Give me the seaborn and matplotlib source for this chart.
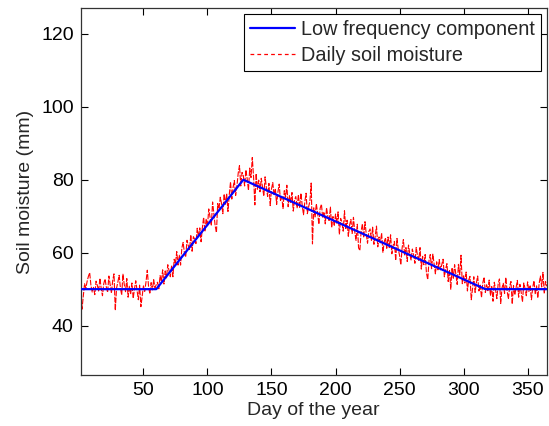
import numpy as np
import pandas as pd
import matplotlib
matplotlib.use("Agg")
import matplotlib.pyplot as plt
import seaborn as sns

# Low frequency component (piecewise linear breakpoints)
lf_days = [1, 60, 128, 317, 365]
lf_values = [50, 50, 80, 50, 50]

# Daily soil moisture (mm)
daily_values = [
    48.8, 44.5, 48.0, 51.5, 50.3, 52.1, 53.5, 54.5, 51.0, 49.2,
    50.5, 48.5, 52.2, 51.0, 49.5, 53.0, 50.2, 48.2, 51.5, 52.8,
    50.6, 49.1, 53.6, 51.2, 48.9, 52.4, 54.2, 44.2, 50.3, 51.9,
    53.8, 50.4, 48.4, 54.1, 51.3, 49.3, 52.9, 47.8, 50.8, 48.6,
    51.7, 47.5, 50.1, 52.3, 49.6, 47.1, 51.1, 45.2, 48.1, 50.9,
    49.4, 52.0, 55.2, 50.7, 48.7, 51.8, 49.8, 52.6, 50.4, 51.2,
    51.9, 50.1, 53.7, 52.1, 55.3, 51.4, 55.0, 53.1, 56.7, 55.0,
    53.4, 56.5, 53.4, 58.2, 57.0, 60.3, 56.6, 59.3, 56.6, 61.3,
    62.8, 59.9, 58.8, 63.4, 62.0, 60.9, 64.9, 60.4, 64.4, 63.7,
    62.5, 66.7, 64.3, 66.8, 63.0, 66.8, 69.7, 65.8, 69.3, 67.2,
    72.0, 69.7, 67.4, 73.9, 70.7, 67.4, 65.5, 73.5, 72.0, 75.2,
    73.5, 70.7, 76.1, 73.3, 76.2, 71.3, 75.8, 79.4, 74.7, 77.9,
    79.8, 75.7, 78.3, 81.8, 83.9, 78.3, 82.0, 81.1, 78.3, 82.7,
    80.3, 77.1, 83.2, 80.6, 86.1, 80.7, 73.1, 81.7, 77.4, 79.9,
    76.7, 80.4, 77.9, 75.5, 80.8, 77.8, 75.4, 79.0, 72.9, 77.5,
    79.2, 75.7, 77.6, 73.2, 76.6, 78.8, 74.3, 75.4, 72.1, 77.0,
    75.2, 78.5, 72.6, 75.6, 73.8, 76.5, 71.4, 74.5, 75.4, 72.3,
    75.9, 72.4, 76.3, 72.9, 70.4, 73.9, 76.3, 70.7, 72.6, 74.1,
    79.1, 62.4, 72.3, 69.8, 73.4, 70.9, 67.8, 72.2, 73.3, 69.5,
    71.2, 67.9, 72.3, 69.9, 68.6, 72.5, 66.9, 69.9, 67.3, 70.6,
    68.1, 71.2, 65.0, 69.4, 68.4, 65.9, 71.5, 66.4, 68.9, 64.5,
    67.6, 69.1, 65.3, 69.7, 65.8, 63.4, 67.8, 61.3, 60.6, 65.9,
    67.9, 64.1, 68.5, 65.1, 62.6, 65.8, 66.5, 63.4, 67.0, 62.3,
    64.5, 67.3, 61.6, 64.3, 62.7, 65.4, 60.1, 62.9, 64.1, 61.2,
    64.3, 61.4, 64.9, 59.7, 62.0, 63.1, 57.9, 63.9, 60.9, 59.3,
    56.7, 61.3, 63.6, 59.2, 61.4, 57.6, 62.1, 59.7, 58.0, 61.0,
    59.4, 57.1, 61.4, 59.3, 57.9, 61.4, 55.5, 59.0, 56.7, 59.5,
    54.5, 52.6, 57.8, 59.5, 55.6, 59.6, 56.8, 54.2, 57.5, 55.3,
    58.1, 55.3, 56.7, 58.2, 53.4, 55.5, 57.0, 52.1, 55.3, 50.0,
    55.9, 53.0, 56.7, 53.9, 51.3, 56.8, 53.9, 59.3, 51.5, 53.8,
    51.7, 54.7, 49.5, 52.5, 53.5, 47.1, 50.1, 53.4, 49.1, 51.7,
    53.6, 49.5, 51.1, 47.7, 51.7, 53.3, 49.1, 51.2, 49.6, 52.5,
    48.2, 50.7, 46.7, 51.9, 49.8, 47.4, 51.4, 52.8, 46.1, 50.3,
    51.6, 48.8, 53.2, 49.5, 47.3, 50.8, 52.1, 45.9, 51.0, 48.4,
    50.4, 52.4, 47.8, 51.3, 49.1, 46.5, 51.7, 50.2, 48.2, 52.0,
    49.4, 51.1, 47.1, 50.5, 52.3, 48.6, 50.9, 47.6, 51.5, 53.6,
    50.6, 54.6, 48.8, 52.1, 50.8,
]
days = np.arange(1, len(daily_values) + 1)

x_ticks = [50, 100, 150, 200, 250, 300, 350]
y_ticks = [40, 60, 80, 100, 120]

sns.set_theme(style="white")
plt.rcParams["font.family"] = ["Liberation Sans", "DejaVu Sans"]

fig = plt.figure(figsize=(5.49, 4.26), dpi=100)
ax = fig.add_axes([0.147, 0.12, 0.849, 0.8605])

lf_df = pd.DataFrame({"day": lf_days, "sm": lf_values})
daily_df = pd.DataFrame({"day": days, "sm": daily_values})

sns.lineplot(data=daily_df, x="day", y="sm", ax=ax, color="#ff0000",
             linewidth=0.8, zorder=2, label="Daily soil moisture",
             estimator=None)
ax.lines[-1].set_linestyle((0, (5, 1.2)))
sns.lineplot(data=lf_df, x="day", y="sm", ax=ax, color="#0000ff",
             linewidth=1.6, zorder=3, label="Low frequency component",
             estimator=None)

ax.set_xlim(1, 365)
ax.set_ylim(26.5, 127)
ax.set_xticks(x_ticks)
ax.set_yticks(y_ticks)
ax.set_xlabel("Day of the year", fontsize=14, labelpad=2)
ax.set_ylabel("Soil moisture (mm)", fontsize=14, labelpad=5)
ax.tick_params(direction="in", length=5, width=0.8, colors="black",
               labelsize=14, top=True, right=True, bottom=True, left=True,
               pad=5)
for s in ax.spines.values():
    s.set_color("#333333")
    s.set_linewidth(0.9)
ax.grid(False)

handles, labels = ax.get_legend_handles_labels()
order = [1, 0]
leg = ax.legend([handles[i] for i in order], [labels[i] for i in order],
                loc="upper right", fontsize=14.3, frameon=True, fancybox=False,
                edgecolor="black", framealpha=1, handlelength=2.25,
                borderaxespad=0.3, borderpad=0.3, labelspacing=0.35,
                handletextpad=0.3)
leg.get_frame().set_linewidth(0.8)
leg.legend_handles[1].set_linestyle((0, (3, 2.5)))
leg.legend_handles[1].set_linewidth(0.9)

fig.savefig("out.png", dpi=100)
